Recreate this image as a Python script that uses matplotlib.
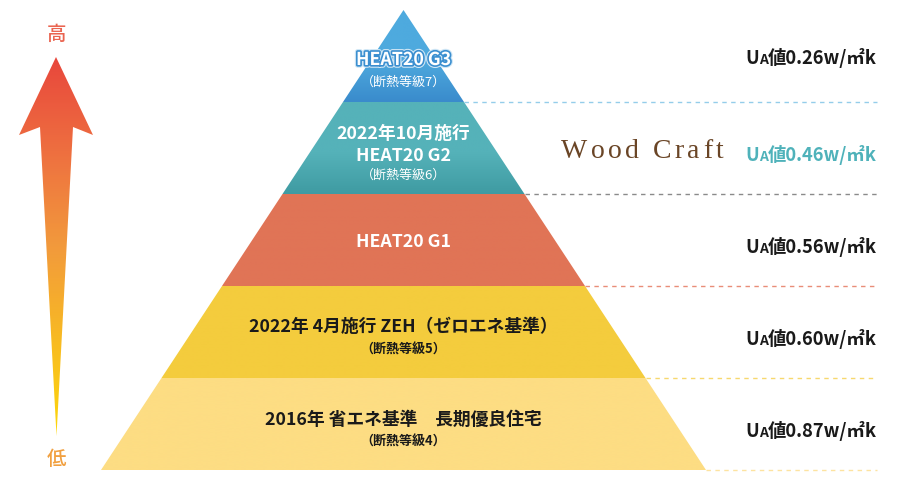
import numpy as np
import matplotlib
matplotlib.use('Agg')
import matplotlib.pyplot as plt
from matplotlib.patches import Polygon
from matplotlib.colors import LinearSegmentedColormap, to_rgb
import matplotlib.patheffects as pe

plt.rcParams['font.family'] = ['Noto Sans CJK JP', 'DejaVu Sans']

# ---------------- data ----------------
levels = ['G3', 'G2', 'G1', 'ZEH', 'STD']
main_labels = [['HEAT20 G3'],
               ['2022年10月施行', 'HEAT20 G2'],
               ['HEAT20 G1'],
               ['2022年 4月施行 ZEH（ゼロエネ基準）'],
               ['2016年 省エネ基準　長期優良住宅']]
sub_labels = ['（断熱等級7）', '（断熱等級6）', '', '（断熱等級5）', '（断熱等級4）']
ua_values = [0.26, 0.46, 0.56, 0.60, 0.87]
ua_prefix = ['U', 'A', '値']
ua_unit = 'w/㎡k'
brand = 'Wood Craft'
scale_labels = ['高', '低']

# ---------------- style ----------------
W, H = 898, 502
fill_top = ['#4eaade', '#55b2b9', '#e07456', '#f4cc3d', '#fddd83']
fill_bot = ['#3a8bcc', '#3f9ba2', '#e07456', '#f4cc3d', '#fddd83']
text_col = ['white', 'white', 'white', '#1a1a1a', '#1a1a1a']
dash_col = ['#94cdea', '#8a8a8a', '#e98d78', '#f7d86e', '#fde3a0']
ua_col = ['#1a1a1a', '#4fb2ba', '#1a1a1a', '#1a1a1a', '#1a1a1a']

fig = plt.figure(figsize=(W / 100, H / 100), dpi=100)
ax = fig.add_axes([0, 0, 1, 1])
ax.set_xlim(0, W)
ax.set_ylim(H, 0)
ax.axis('off')
renderer = fig.canvas.get_renderer()

# pyramid geometry
apex_x, apex_y, base_y, base_half = 403.5, 11.0, 471.0, 302.5
n = len(levels)
bounds = np.linspace(apex_y, base_y, n + 1)


def half_w(y):
    return base_half * (y - apex_y) / (base_y - apex_y)


line_end = 877
for i in range(n):
    y0, y1 = bounds[i], bounds[i + 1]
    poly = [(apex_x - half_w(y0), y0), (apex_x + half_w(y0), y0),
            (apex_x + half_w(y1), y1), (apex_x - half_w(y1), y1)]
    patch = Polygon(poly, closed=True, facecolor='none', edgecolor='none')
    ax.add_patch(patch)
    c0, c1 = np.array(to_rgb(fill_top[i])), np.array(to_rgb(fill_bot[i]))
    t = np.linspace(0, 1, 100)[:, None]
    t = np.clip((t - 0.55) / 0.45, 0, 1) if i < 2 else t
    grad = (c0 * (1 - t) + c1 * t)[:, None, :]
    im = ax.imshow(grad, extent=[apex_x - half_w(y1) - 2, apex_x + half_w(y1) + 2, y1, y0],
                   origin='upper', aspect='auto', interpolation='bilinear', zorder=1)
    im.set_clip_path(patch)
    # dashed guide line
    ax.plot([apex_x + half_w(y1), line_end], [y1, y1], color=dash_col[i], lw=1.0,
            dashes=(3.2, 3.2), zorder=2)

ax.set_xlim(0, W)
ax.set_ylim(H, 0)

# layer labels
main_y = [[61], [134, 156], [242], [327], [420]]
sub_y = [82, 175, None, 350, 442]
for i in range(n):
    for lab, yy in zip(main_labels[i], main_y[i]):
        t = ax.text(apex_x, yy, lab, ha='center', va='center', fontsize=12.8,
                    fontweight='bold', color=text_col[i], zorder=5)
        if i == 0:
            t.set_path_effects([pe.Stroke(linewidth=4, foreground='#cfe6f5'),
                                pe.Stroke(linewidth=2.4, foreground='#3b8fd0'),
                                pe.Normal()])
    if sub_labels[i]:
        ax.text(apex_x, sub_y[i], sub_labels[i], ha='center', va='center', fontsize=9.4,
                fontweight='bold' if i >= 3 else 'normal', color=text_col[i], zorder=5)

# UA labels (right side), built from runs
ua_y = [(bounds[i] + bounds[i + 1]) / 2 + 12 for i in range(n)]
ua_y[0] = 58 + 6
for i in range(n):
    pieces = [(ua_prefix[0], 13.2), (ua_prefix[1], 10.0),
              (ua_prefix[2] + f'{ua_values[i]:.2f}' + ua_unit, 13.2)]
    texts = []
    widths = []
    for s, fs in pieces:
        tt = ax.text(0, ua_y[i], s, ha='left', va='baseline', fontsize=fs,
                     fontweight='bold', color=ua_col[i], zorder=5)
        texts.append(tt)
        widths.append(tt.get_window_extent(renderer).width)
    total = sum(widths)
    x = line_end - total
    for tt, w in zip(texts, widths):
        tt.set_x(x)
        x += w

# brand text with tracking
fs_b = 20
track = 3.4
chars = []
for ch in brand:
    if ch == ' ':
        chars.append((None, fs_b * 100 / 72 * 0.25))
    else:
        tt = ax.text(0, 158, ch, ha='left', va='baseline', fontsize=fs_b,
                     family='Liberation Serif', color='#6a4526', zorder=5)
        chars.append((tt, tt.get_window_extent(renderer).width))
total = sum(w for _, w in chars) + track * (len(chars) - 1)
x = 642 - total / 2
for tt, w in chars:
    if tt is not None:
        tt.set_x(x)
    x += w + track

# gradient arrow
arrow = [(56, 58), (93, 136), (73, 128), (56.5, 437), (40, 128), (19, 136)]
apatch = Polygon(arrow, closed=True, facecolor='none', edgecolor='none')
ax.add_patch(apatch)
cmap = LinearSegmentedColormap.from_list('arr', [(0.0, '#e8463c'), (0.25, '#ee6f40'),
                                                 (0.5, '#f29a3c'), (0.75, '#f8bb22'),
                                                 (1.0, '#fdd80a')])
g = cmap(np.linspace(0, 1, 200))[:, None, :3]
aim = ax.imshow(g, extent=[15, 98, 440, 55], origin='upper', aspect='auto',
                interpolation='bilinear', zorder=3)
aim.set_clip_path(apatch)
ax.set_xlim(0, W)
ax.set_ylim(H, 0)

ax.text(56, 34, scale_labels[0], ha='center', va='center', fontsize=14,
        color='#ea6450', fontweight='medium')
ax.text(56, 460, scale_labels[1], ha='center', va='center', fontsize=14,
        color='#f1a040', fontweight='medium')

fig.savefig('out.png', dpi=100)
